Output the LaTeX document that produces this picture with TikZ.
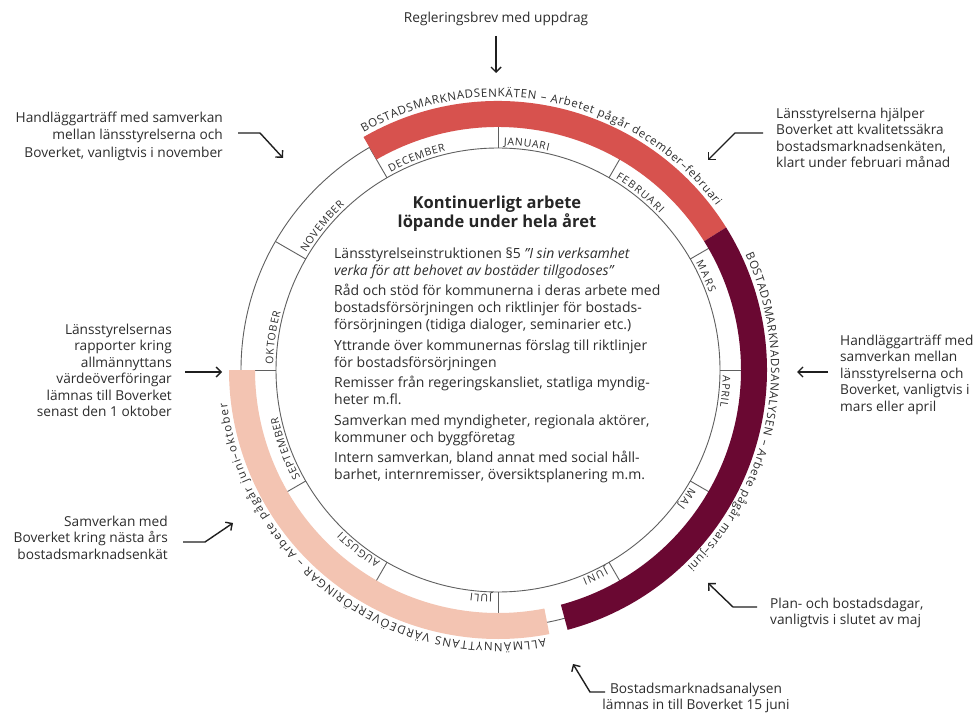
\documentclass[tikz,border=0pt]{standalone}
\usepackage{fontspec}
\setmainfont{Open Sans}
\usetikzlibrary{arrows.meta,decorations.text}
\definecolor{bandred}{RGB}{215,82,78}
\definecolor{banddark}{RGB}{106,8,50}
\definecolor{bandpink}{RGB}{243,196,178}
\definecolor{ringgray}{RGB}{95,95,95}
\definecolor{txt}{RGB}{45,45,45}
\newcommand\monthfont{\fontsize{10.5}{12}\selectfont}
\newcommand\bandfont{\fontsize{11.5}{13}\selectfont}
\newcommand\mlab[3]{\path[decorate,decoration={text along path,text align={fit to path},text color=txt,text={|\monthfont|#3}}] (#1:225) arc[start angle=#1,end angle=#2,radius=225];}
\newcommand\blab[3]{\path[decorate,decoration={text along path,text align={fit to path},text color=txt,text={|\bandfont|#3}}] (#1:273) arc[start angle=#1,end angle=#2,radius=273];}
\newcommand\bandsector[3]{\fill[#3] (#1:243) arc[start angle=#1,end angle=#2,radius=243] -- (#2:269) arc[start angle=#2,end angle=#1,radius=269] -- cycle;}
\tikzset{
  ring/.style={draw=ringgray, line width=0.9pt},
  note/.style={font=\fontsize{13.7}{16.5}\selectfont, text=txt, inner sep=0pt},
  pointer/.style={draw=black!88, line width=1.4pt, -{Straight Barb[length=5pt,width=10pt]}},
}
\begin{document}
\begin{tikzpicture}[x=1pt,y=1pt]
\path[use as bounding box, fill=white] (0,0) rectangle (979,713);
\coordinate (C) at (498,343);
\begin{scope}[shift={(C)}]
  \draw[ring] (0,0) circle[radius=222];
  \draw[ring] (0,0) circle[radius=257];
  \foreach \a in {0,30,...,330} \draw[ring] (\a:222) -- (\a:257);
  \mlab{88.5}{77}{JANUARI}
  \mlab{58.5}{44}{FEBRUARI}
  \mlab{28.5}{20}{MARS}
  \mlab{-1.5}{-9.5}{APRIL}
  \mlab{-31.5}{-37}{MAJ}
  \mlab{-61.5}{-68}{JUNI}
  \mlab{-91.5}{-97}{JULI}
  \mlab{-121.5}{-134}{AUGUSTI}
  \mlab{-151.5}{-168}{SEPTEMBER}
  \mlab{178.5}{165}{OKTOBER}
  \mlab{148.5}{133}{NOVEMBER}
  \mlab{118.5}{103.5}{DECEMBER}
  \bandsector{120}{32}{bandred}
  \bandsector{32}{-75}{banddark}
  \bandsector{-79}{-180}{bandpink}
  \blab{119.5}{37}{BOSTADSMARKNADSENKÄTEN – Arbetet pågår december–februari}
  \blab{25}{-46}{BOSTADSMARKNADSANALYSEN – Arbete pågår mars–juni}
  \blab{-80}{-173}{ALLMÄNNYTTANS VÄRDEÖVERFÖRINGAR – Arbete pågår juni–oktober}
\end{scope}

\node[anchor=north, align=center, inner sep=0pt, text=black!85, font=\fontsize{16.5}{19}\selectfont\bfseries] (title) at (497,517.5) {Kontinuerligt arbete\\löpande under hela året};
\node[anchor=north west, align=left, inner sep=0pt, text=txt, font=\fontsize{14}{17}\selectfont] (body) at (334,465.6) {Länsstyrelseinstruktionen §5 \textit{”I sin verksamhet}\\
\textit{verka för att behovet av bostäder tillgodoses”}\\[3.5pt]
Råd och stöd för kommunerna i deras arbete med\\
bostadsförsörjningen och riktlinjer för bostads-\\
försörjningen (tidiga dialoger, seminarier etc.)\\[3.5pt]
Yttrande över kommunernas förslag till riktlinjer\\
för bostadsförsörjningen\\[3.5pt]
Remisser från regeringskansliet, statliga myndig-\\
heter m.fl.\\[3.5pt]
Samverkan med myndigheter, regionala aktörer,\\
kommuner och byggföretag\\[3.5pt]
Intern samverkan, bland annat med social håll-\\
barhet, internremisser, översiktsplanering m.m.};

% annotations
\node[note, anchor=base] (regl) at (496,690) {Regleringsbrev med uppdrag};
\node[note, anchor=north east, align=right] (tl) at (223,601.5) {Handläggarträff med samverkan\\[1pt]mellan länsstyrelserna och\\[1pt]Boverket, vanligtvis i november};
\node[note, anchor=north west, align=left] (tr) at (776,605.4) {Länsstyrelserna hjälper\\Boverket att kvalitetssäkra\\bostadsmarknadsenkäten,\\klart under februari månad};
\node[note, anchor=north west, align=left] (rt) at (840,378.4) {Handläggarträff med\\samverkan mellan\\länsstyrelserna och\\Boverket, vanligtvis i\\mars eller april};
\node[note, anchor=north west, align=left] (br) at (770,115.4) {Plan- och bostadsdagar,\\vanligtvis i slutet av maj};
\node[note, anchor=north, align=center] (bt) at (696,30.4) {Bostadsmarknadsanalysen\\lämnas in till Boverket 15 juni};
\node[note, anchor=north east, align=right] (lf) at (172,389.4) {Länsstyrelsernas\\rapporter kring\\allmännyttans\\värdeöverföringar\\lämnas till Boverket\\senast den 1 oktober};
\node[note, anchor=north east, align=right] (lb) at (168,197.4) {Samverkan med\\Boverket kring nästa års\\bostadsmarknadsenkät};

% arrows
\coordinate (a1s) at (496,677); \coordinate (a1e) at (496,640);
\draw[pointer] (a1s) -- (a1e);
\coordinate (a2s) at (238,580); \coordinate (a2m) at (260,580); \coordinate (a2e) at (283,555);
\draw[pointer] (a2s) -- (a2m) -- (a2e);
\coordinate (a3s) at (763,580); \coordinate (a3m) at (735,580); \coordinate (a3e) at (708,553);
\draw[pointer] (a3s) -- (a3m) -- (a3e);
\coordinate (a4s) at (828,341); \coordinate (a4e) at (797,341);
\draw[pointer] (a4s) -- (a4e);
\coordinate (a5s) at (757,106); \coordinate (a5m) at (733,106); \coordinate (a5e) at (708,130);
\draw[pointer] (a5s) -- (a5m) -- (a5e);
\coordinate (a6s) at (605,21); \coordinate (a6m) at (590,21); \coordinate (a6e) at (573,49);
\draw[pointer] (a6s) -- (a6m) -- (a6e);
\coordinate (a7s) at (185,341); \coordinate (a7e) at (222,341);
\draw[pointer] (a7s) -- (a7e);
\coordinate (a8s) at (183,171); \coordinate (a8m) at (205,171); \coordinate (a8e) at (233,190);
\draw[pointer] (a8s) -- (a8m) -- (a8e);
\end{tikzpicture}
\end{document}
